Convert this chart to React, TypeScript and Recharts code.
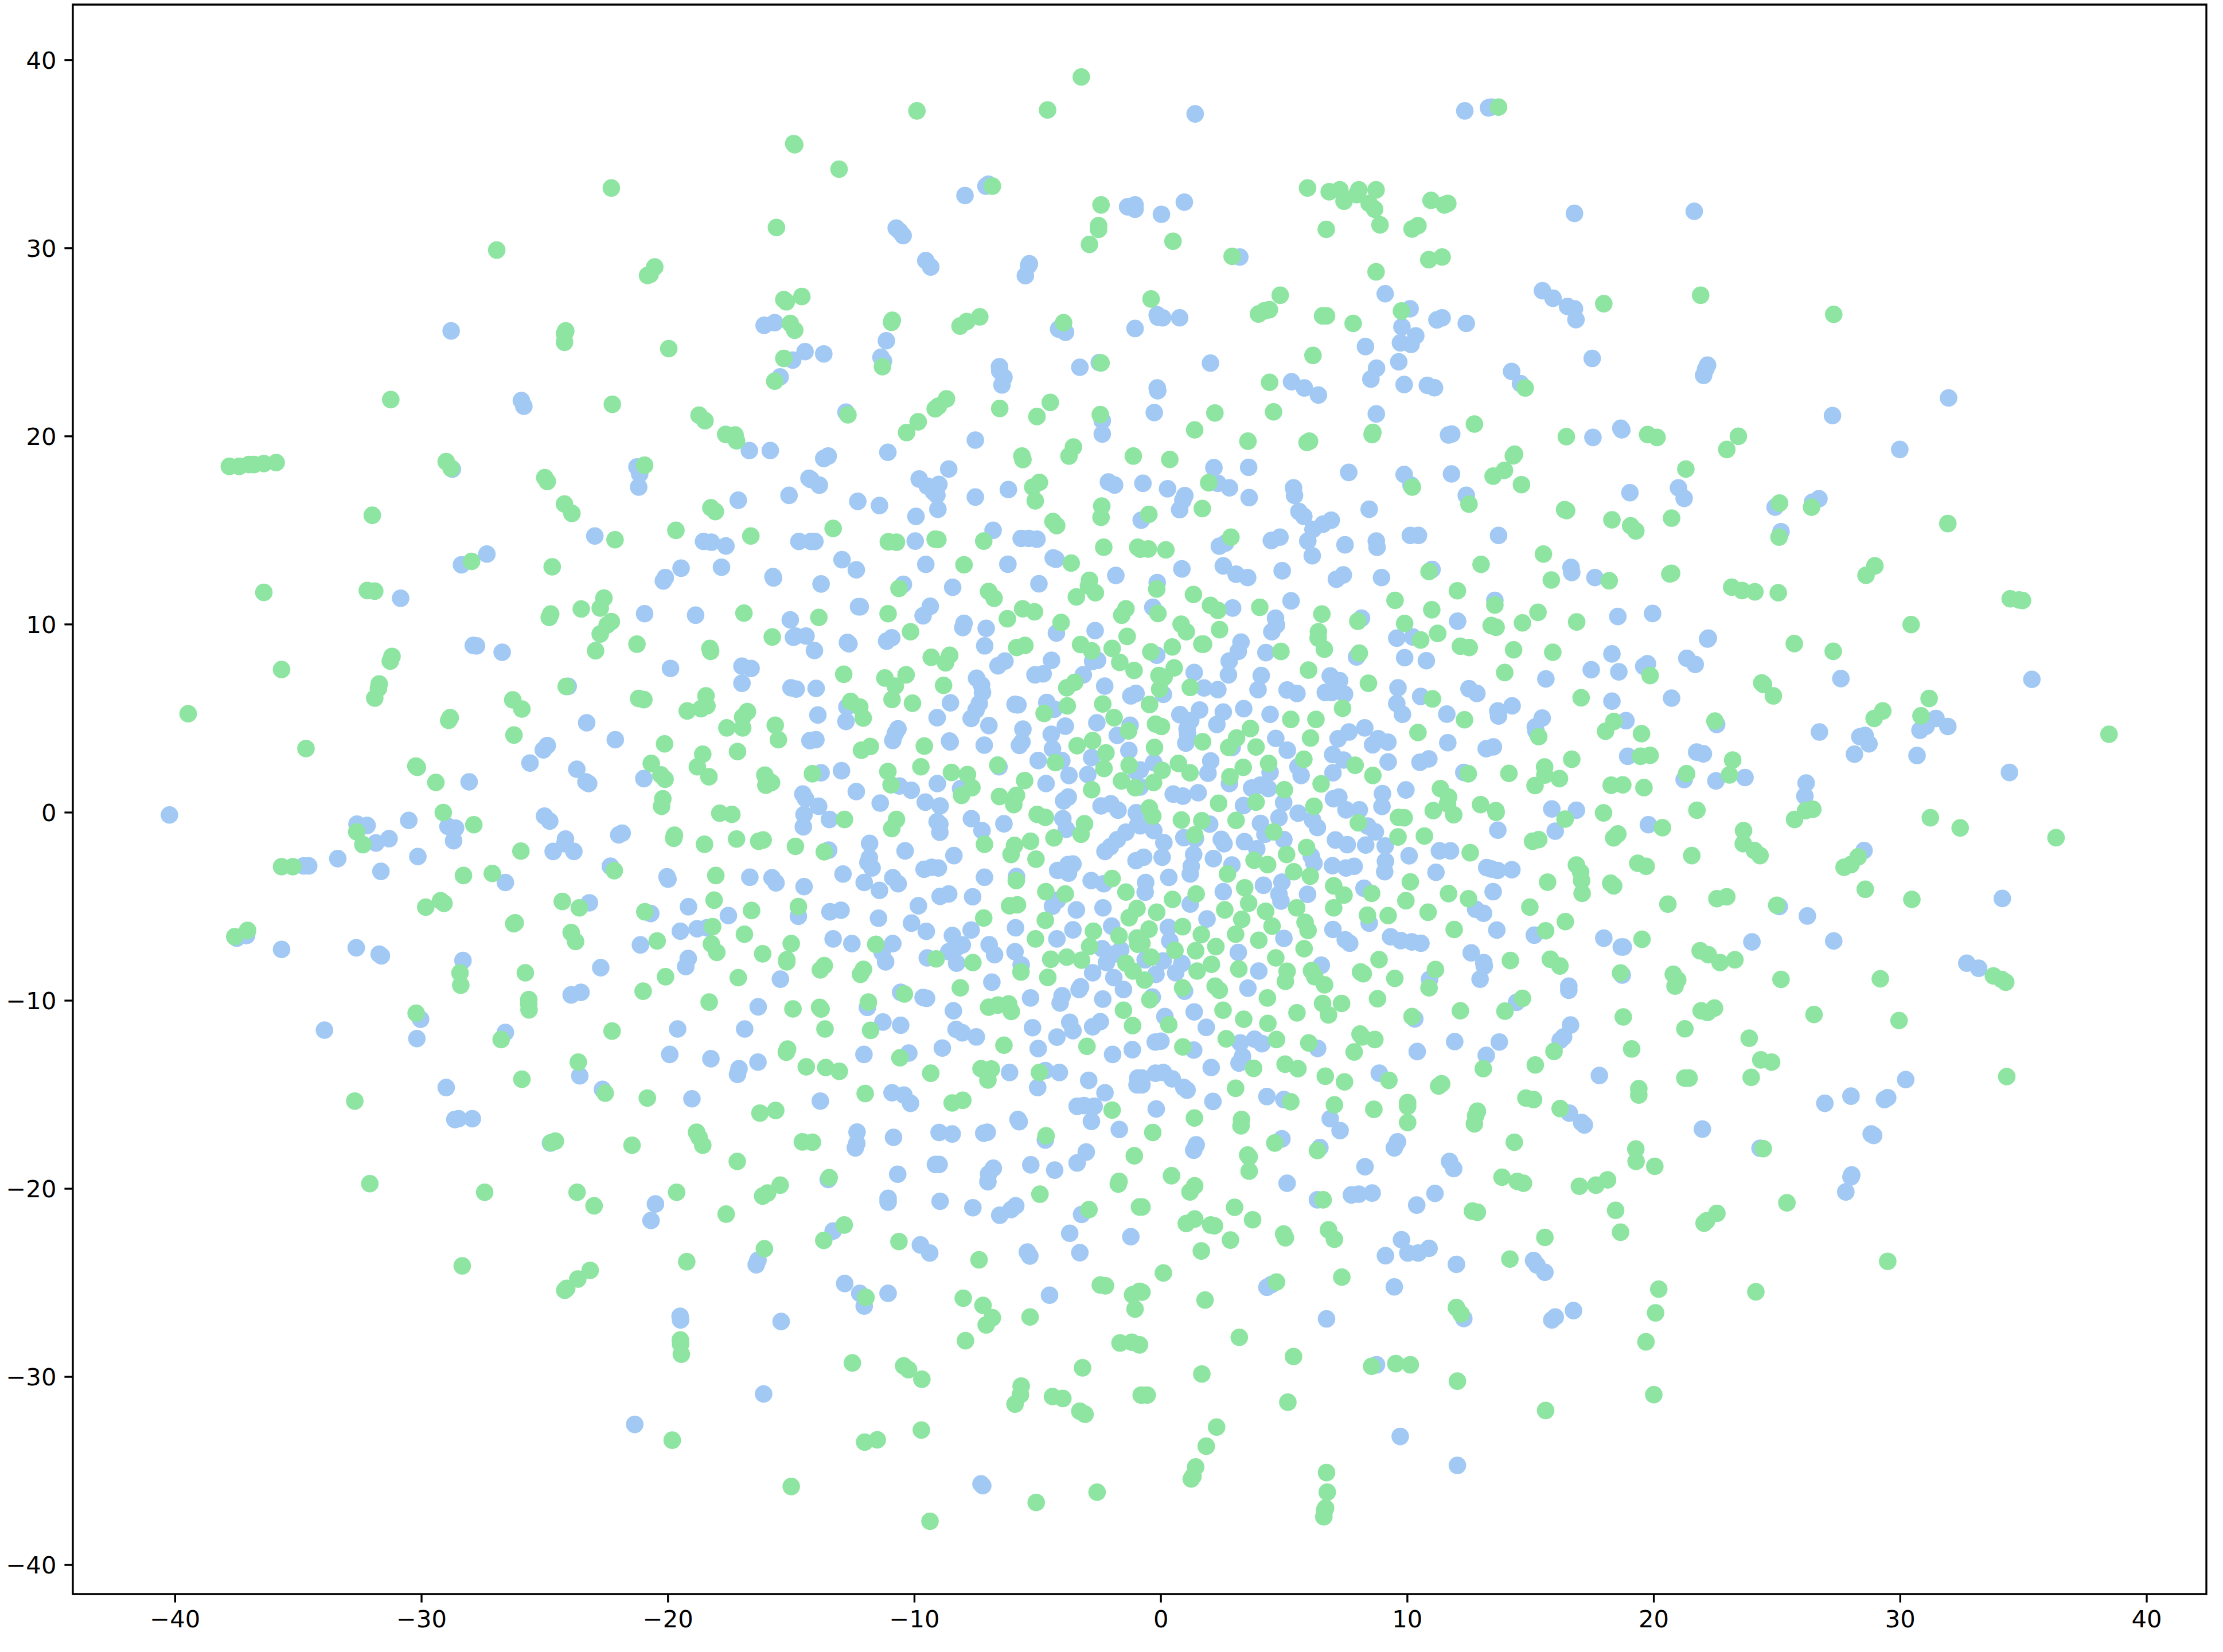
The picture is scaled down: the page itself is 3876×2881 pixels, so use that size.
import React from "react";
import { ScatterChart, Scatter, XAxis, YAxis, ReferenceArea } from "recharts";

const xTicks = [-40, -30, -20, -10, 0, 10, 20, 30, 40];
const yTicks = [-40, -30, -20, -10, 0, 10, 20, 30, 40];
const xDomain = [-44.15, 42.42];
const yDomain = [-41.55, 42.95];

const bluePointsOuterTop: number[][] = [
[-28.8,25.6],[-25.95,21.9],[-25.85,21.6],[-28.75,18.25],[-22.97,14.7],
[-7,33.4],[-7.1,33.3],[-7.95,32.8],[-1.35,32.2],[-1.05,32.3],[-1.05,32.07],[-10.74,31.07],[-10.6,30.9],[-10.46,30.67],[-9.54,29.34],[-9.34,29],[-5.34,29.17],[-5.37,29.08],[-5.5,28.54],[-16.1,25.9],[-15.67,26.04],[-4.15,25.7],[-3.87,25.53],[-1.05,25.73],[-11.14,25.08],[-14.44,24.5],[-13.68,24.38],[-14.94,24.05],[-11.36,24.2],[-11.26,24],[-6.55,23.7],[-6.54,23.47],[-6.37,23.13],[-6.45,22.73],[-2.5,23.92],[-3.29,23.67],[-15.45,23.16],[-12.78,21.28],[-2.38,20.83],[-2.38,20.12],[-7.53,19.8],[-16.7,19.24],[-15.85,19.24],[-13.68,18.82],[-13.5,18.95],[-11.08,19.15],[-21.26,18.37],[-21.15,18],[-21.19,17.3],[-14.28,17.77],[-14.2,17.7],[-13.86,17.4],[-8.61,18.26],[-9.81,17.73],[-9.48,17.35],[-9.01,17.44],[-9.23,17.05],[-9.09,16.87],[-9.05,16.12],[-17.15,16.6],[-15.09,16.86],[-12.3,16.54],[-11.42,16.32],[-9.94,15.74],[-7.53,16.77],[-6.19,17.17],[-2.13,17.57],[-1.88,17.41],[-0.73,17.5],[-6.81,15],[-0.8,15.54],
[1.39,37.14],[12.33,37.3],[13.29,37.46],[13.4,37.5],[0.95,32.45],[0.02,31.8],[3.2,29.53],[16.78,31.85],[9.1,27.58],[10.11,26.78],[15.48,27.74],[15.91,27.34],[16.5,26.9],[16.78,26.78],[16.84,26.2],[-0.15,26.46],[-0.12,26.33],[0.07,26.3],[0.76,26.3],[11.2,26.19],[11.41,26.3],[12.39,26],[9.78,25.82],[10.34,25.34],[9.72,24.97],[10.15,24.88],[8.3,24.77],[9.65,23.96],[17.5,24.14],[2.01,23.89],[8.75,23.62],[8.52,23.04],[14.23,23.45],[14.59,22.8],[5.3,22.9],[5.82,22.57],[6.39,22.19],[9.87,22.75],[10.81,22.71],[11.1,22.58],[-0.15,22.57],[-0.13,22.42],[-0.27,21.26],[8.74,21.19],[11.67,20.07],[11.8,20.12],[17.53,19.94],[18.66,20.43],[18.7,20.34],[7.62,18.08],[2.15,18.33],[3.56,18.35],[2.31,17.5],[2.78,17.26],[9.87,17.97],[10.15,17.4],[11.79,18],[0.27,17.21],[0.97,16.85],[0.89,16.6],[0.76,16.1],[3.58,16.74],[5.38,17.26],[5.42,16.86],[8.45,16.12],[5.6,16],[5.8,15.74],[6.91,15.54],[6.58,15.33],[6.17,15.05],[12.39,16.86],[19.03,17],[4.83,14.64],[4.48,14.46],[10.12,14.73],[10.45,14.73],[13.7,14.73],
[21.64,31.96],[22.18,23.78],[22.1,23.56],[22.02,23.24],[27.25,21.1],[31.96,22.04],[29.98,19.3],[21,17.26],[21.23,16.7],[24.92,16.23],[26.7,16.68],[26.44,16.5],[25.16,14.93],
];

const bluePointsLeft: number[][] = [
[-27.9,8.88],[-27.77,8.86],[-28.38,13.17],[-27.35,13.74],[-30.85,11.39],[-26.73,8.52],[-24.05,6.71],[-23.3,4.77],[-24.9,3.56],[-25.06,3.33],[-25.6,2.63],[-23.7,2.3],[-23.33,1.63],[-23.22,1.54],[-28.07,1.63],[-40.23,-0.13],[-25.01,-0.19],[-24.8,-0.46],[-32.62,-0.62],[-32.21,-0.69],[-30.52,-0.42],[-28.93,-0.74],[-28.62,-0.83],[-28.7,-1.5],[-31.85,-1.62],[-31.32,-1.39],[-24.16,-1.41],[-24.19,-1.66],[-24.66,-2.07],[-23.82,-2.07],[-33.4,-2.45],[-30.15,-2.34],[-34.78,-2.84],[-34.58,-2.84],[-31.65,-3.13],[-26.6,-3.72],[-22.34,-2.86],[-23.19,-4.8],[-37.1,-6.54],[-37.5,-6.68],[-35.68,-7.28],[-32.65,-7.19],[-31.72,-7.53],[-31.63,-7.62],[-28.32,-7.87],[-22.73,-8.25],[-23.53,-9.56],[-23.93,-9.7],[-30.04,-10.99],[-33.94,-11.57],[-26.6,-11.69],[-30.19,-12.02],
[-29,-14.62],[-28.65,-16.32],[-28.5,-16.28],[-27.94,-16.28],[-24.77,-17.57],[-23.58,-14],[-22.66,-14.72],
];

const bluePointsMidLeft: number[][] = [
[-18.56,14.41],[-18.24,14.37],[-17.65,14.17],[-14.69,14.41],[-14.2,14.41],[-14.04,14.41],[-9.97,14.43],[-5.67,14.57],[-5.36,14.57],[-5.03,14.53],[-12.94,13.44],[-12.36,12.9],[-19.47,12.99],[-17.83,13.04],[-20.11,12.49],[-20.19,12.31],[-15.74,12.54],[-15.72,12.47],[-13.79,12.15],[-9.54,13.19],[-6.21,13.2],[-4.95,12.16],[-4.37,13.53],[-4.26,13.46],[-1.83,12.6],[-10.45,12.13],[-8.45,11.97],[-20.95,10.57],[-18.88,10.49],[-15.04,10.24],[-12.27,10.94],[-12.2,10.94],[-9.36,10.96],[-9.65,10.46],[-7.99,10.06],[-8.04,9.83],[-7.09,9.79],[-4.24,9.54],[-2.67,9.67],[-14.83,9.38],[-14.4,9.38],[-14.91,9.31],[-14.06,8.61],[-12.72,9.04],[-12.66,8.97],[-10.92,9.29],[-11.13,9.11],[-7.15,8.86],[-4.44,8.09],[-19.9,7.66],[-17,7.78],[-16.63,7.66],[-6.33,8.05],[-6.61,7.8],[-2.77,8.03],[-2.57,8.09],[-17,6.87],[-7.48,7.14],[-7.28,6.78],[-7.24,6.38],[-7.37,5.79],[-7.5,5.45],[-7.7,5],[-5.11,7.32],[-4.78,7.37],[-3.15,7.32],[-2.28,6.72],[-15.01,6.63],[-14.8,6.56],[-13.99,6.6],[-1.22,6.2],[-1.01,6.33],[-8.54,5.83],[-12.74,5.61],[-5.92,5.75],[-5.8,5.72],[-4.63,5.85],[-4.33,5.49],[-13.92,5.18],[-12.78,4.84],[-9.08,5.04],[-6.98,4.62],[-3.88,4.59],[-2.6,4.77],[-1.25,4.64],[-5.6,4.43],[-10.67,4.45],[-10.78,4.2],[-10.88,3.83],[-4.45,4.16],[-1.77,4.1],[-22.14,3.87],[-14.24,3.82],[-14,3.87],[-8.58,3.8],[-8.55,3.75],[-5.64,3.75],[-5.74,3.57],[-7.17,3.58],[-4.4,3.39],[-2.81,2.92],[-1.3,3.3],[-4.98,2.76],[-4.02,2.76],[-6.57,2.43],[-13.79,2.11],[-12.96,2.22],[-1,2.17],[-2.97,2.02],[-3.73,1.97],[-20.98,1.8],[-9.07,1.54],[-4.66,1.54],[-10.61,1.41],[-10.13,1.18],[-12.36,1.11],[-14.53,0.98],[-14.42,0.73],[-8.13,1.27],[-3.76,0.82],[-3.95,0.62],[-11.39,0.5],[-9.56,0.55],[-8.96,0.35],[-13.89,0.33],[-2.43,0.35],[-2.03,0.46],[-1.74,0.12],[-1,-0.01],[-14.48,-0.11],[-14.51,-0.76],[-13.45,-0.37],[-7.69,-0.33],[-3.98,-0.33],[-9.08,-0.49],[-8.97,-0.62],[-8.97,-1.05],[-6.37,-0.6],[-7.26,-0.96],[-3.84,-0.89],[-1.42,-1.05],[-1.77,-1.44],[-0.94,-0.65],[-22,-1.19],[-21.86,-1.1],[-11.82,-1.64],[-10.38,-2.04],[-2.05,-1.82],[-2.27,-2.07],[-13.48,-2],[-11.83,-2.41],[-11.89,-2.66],[-11.72,-2.95],[-8.4,-2.29],[-1.01,-2.56],[-9.61,-3.02],[-9.3,-2.91],[-9.03,-2.95],[-22.33,-2.86],[-20.04,-3.42],[-20,-3.54],[-16.68,-3.44],[-15.78,-3.47],[-15.62,-3.74],[-12.9,-3.27],[-10.88,-3.47],[-10.66,-3.79],[-12.04,-3.72],[-4.19,-3.08],[-3.77,-2.77],[-3.57,-2.74],[-3.75,-3.22],[-7.16,-3.44],[-5.86,-3.4],[-2.83,-3.62],[-2.32,-3.79],[-11.42,-4.14],[-14.48,-3.94],[-8.61,-4.33],[-8.96,-4.46],[-7.64,-4.48],[-4.4,-4.98],[-4.19,-4.66],[-2.35,-5.07],[-3.43,-5.18],[-9.84,-4.96],[-19.17,-5.01],[-20.7,-5.37],[-12.98,-5.2],[-13.43,-5.28],[-17.55,-5.48],[-11.46,-5.62],[-14.71,-5.52],[-10.12,-5.88],[-5.9,-6.13],[-2,-6.04],[-7.7,-6.25],[-9.52,-6.32],[-3.57,-6.24],[-18.82,-6.18],[-18.42,-6.13],[-19.5,-6.31],[-13.3,-6.72],[-8.46,-6.54],[-8.06,-7.04],[-8.27,-7.17],[-4.22,-6.72],[-6.97,-7.03],[-12.54,-6.97],[-10.88,-6.97],[-21.12,-7.04],[-2.38,-7.24],[-1.63,-7.3],[-1.91,-7.53],[-8.61,-7.4],[-5.92,-7.4],[-11.31,-7.44],[-6.75,-7.56],[-9.48,-7.73],[-19.18,-7.76],[-19.28,-8.19],[-11.17,-7.94],[-8.29,-8.01],[-5.67,-8.1],[-2.21,-7.98],[-2.77,-8.52],[-1.91,-8.78],[-15.44,-8.86],[-6.86,-9.02],[-1.52,-9.41],[-3.32,-9.41],[-3.26,-9.27],[-4.01,-9.74],[-4.09,-10.13],[-10.56,-9.56],[-9.65,-9.83],[-9.51,-9.88],[-5.29,-9.86],[-2.36,-9.92],[-16.34,-10.33],[-11.91,-10.36],[-8.42,-10.54],[-3.7,-11.15],[-3.57,-11.6],[-2.46,-11.12],[-2.77,-11.39],[-11.28,-11.14],[-10.56,-11.31],[-8.31,-11.53],[-8.06,-11.71],[-7.49,-11.93],[-5.21,-11.44],[-4.22,-11.94],[-19.61,-11.51],[-16.89,-11.51],[-8.87,-12.52],[-10.23,-12.79],[-4.98,-12.55],[-1.16,-12.61],[-12.05,-12.86],[-1.96,-12.86],[-19.93,-12.86],[-18.26,-13.09],[-17.12,-13.62],[-17.18,-13.92],[-16.35,-13.27],
];

const bluePointsMidRight: number[][] = [
[2.37,14.16],[2.62,14.32],[5.96,14.43],[6.14,13.65],[7.47,14.23],[8.74,14.43],[8.77,14.1],[0.85,12.95],[2.53,13.11],[3.05,12.67],[3.52,12.49],[4.92,12.85],[7.4,12.63],[7.12,12.4],[8.95,12.49],[11,12.92],[16.64,13.03],[16.67,12.76],[17.61,12.49],[-0.15,12.22],[-0.33,10.91],[2.91,10.87],[5.28,11.25],[13.55,11.28],[4.65,10.33],[4.69,9.97],[4.5,9.61],[8.14,10.33],[12.04,10.17],[18.54,10.42],[19.95,10.58],[9.57,9.27],[10.22,9.33],[3.25,9.06],[3.14,8.57],[2.77,8.05],[4.26,8.5],[7.94,8.27],[9.89,8.23],[10.77,8.07],[-0.17,8.36],[18.3,8.43],[19.74,7.91],[19.59,7.77],[1.35,7.44],[2.74,7.32],[4.07,7.28],[17.46,7.59],[18.58,7.48],[15.62,7.1],[6.87,7.26],[7.25,7.01],[9.62,6.63],[1.75,6.62],[2.31,6.53],[3.94,6.53],[5.12,6.51],[5.52,6.33],[6.67,6.38],[6.93,6.38],[7.45,6.29],[0.1,6.28],[12.5,6.58],[12.82,6.33],[10.54,6.17],[20.72,6.08],[18.3,5.92],[9.57,5.79],[14.25,5.67],[13.67,5.4],[13.7,5.13],[1.57,5.45],[3.36,5.52],[2.53,5.34],[4.43,5.22],[0.77,5.2],[9.8,5.22],[11.6,5.23],[1.21,4.89],[15.47,5.02],[18.87,4.88],[1.06,4.44],[1.08,4.19],[2.27,4.68],[15.19,4.55],[15.22,4.32],[8.27,4.5],[7.63,4.28],[7.19,3.92],[8.82,3.92],[4.66,3.94],[9.21,3.74],[8.59,3.6],[11.64,3.71],[1.01,3.69],[2.89,3.46],[13.49,3.49],[13.2,3.39],[5.13,3.31],[6.97,3.08],[10.87,2.85],[10.51,2.67],[7.41,2.79],[-0.29,2.65],[2.02,2.74],[18.94,2.99],[9.22,2.69],[5.56,2.43],[1.91,2.09],[-0.84,2.26],[6.98,2.11],[4.43,2.13],[5.69,1.97],[12.29,2.13],[2.78,1.54],[3.68,1.3],[4.03,1.45],[4.36,1.27],[-0.84,1.36],[9.94,1.2],[8.99,1],[1.51,1.05],[0.5,0.98],[0.89,0.87],[7,0.73],[7.22,0.82],[4.98,0.53],[8.97,0.32],[7.51,0.14],[8.05,0.14],[3.35,0.37],[15.86,0.19],[16.86,0.12],[5.57,-0.04],[4.79,-0.28],[6.15,-0.4],[1.98,-0.62],[4.04,-0.58],[6.35,-0.8],[19.78,-0.65],[8.39,-0.72],[4.22,-1.16],[8.7,-1.03],[13.67,-0.94],[16,-0.99],[-0.29,-0.96],[-0.84,-0.71],[0.93,-1.34],[1.4,-1.39],[2.45,-1.43],[2.56,-1.66],[3.39,-1.55],[4.99,-1.44],[7.08,-1.46],[7.56,-1.71],[8.31,-1.73],[3.89,-1.93],[9.1,-1.78],[0.12,-1.6],[1.33,-2.23],[2.13,-2.45],[0.05,-2.38],[-0.7,-2.38],[11.3,-2.04],[11.75,-2.04],[10.07,-2.3],[6.1,-2.32],[6.21,-2.7],[9.11,-2.59],[9.08,-3.15],[2.88,-2.79],[1.23,-2.86],[1.19,-3.27],[6.96,-2.83],[7.51,-2.95],[7.84,-2.86],[11.16,-3.18],[13.22,-2.93],[13.4,-3],[13.66,-3.08],[14.24,-3.04],[0.32,-3.45],[-0.62,-3.72],[-0.64,-4.24],[4.91,-3.7],[4.16,-3.87],[2.53,-4.21],[8.24,-4.03],[13.48,-4.21],[4.79,-4.35],[4.87,-4.71],[5.95,-4.35],[1.19,-4.87],[12.77,-5.14],[13.09,-5.36],[1.87,-5.66],[8.45,-5.88],[13.63,-6.25],[0.3,-6.11],[6.98,-6.22],[15.15,-6.52],[4.99,-6.69],[0.36,-6.83],[9.32,-6.61],[9.73,-6.81],[10.18,-6.88],[10.55,-6.95],[7.48,-6.77],[7.66,-6.95],[17.97,-6.68],[18.68,-7.15],[18.76,-7.15],[3.14,-7.44],[12.59,-7.46],[0.09,-7.89],[-0.64,-7.83],[0.85,-8.03],[6.51,-8.12],[13.1,-7.98],[13.12,-8.16],[0.6,-8.52],[-0.2,-8.6],[3.97,-8.43],[10.9,-8.87],[12.95,-8.86],[18.72,-8.64],[3.53,-9.34],[16.55,-9.23],[16.55,-9.45],[0.96,-9.5],[-0.35,-9.81],[14.43,-10.09],[1.35,-10.6],[0.16,-10.85],[10.3,-10.97],[16.62,-11.3],[16.34,-11.93],[16.2,-12.11],[1.84,-11.42],[11.92,-12.18],[13.73,-12.2],[-0.23,-12.2],[0,-12.16],[3.22,-12.25],[3.8,-12.05],[4.1,-12.29],[6.36,-12.54],[1.33,-12.63],[10.4,-12.71],[13.2,-12.91],[3.31,-12.97],[2.04,-13.56],[3.17,-13.32],
[22.21,9.27],[22.18,9.22],[21.34,8.2],[21.68,7.87],[27.59,7.12],[35.34,7.08],[22.55,4.68],[31.45,5],[31.05,4.59],[30.8,4.37],[31.93,4.57],[26.72,4.28],[28.57,4.1],[28.36,4.03],[28.73,3.65],[28.14,3.1],[30.68,3.03],[21.74,3.21],[22.01,3.12],[23.7,1.86],[22.52,1.68],[21.23,1.75],[26.18,1.57],[26.13,0.87],[34.43,2.13],[28.53,-2.02],[34.14,-4.57],[25.09,-5],[26.23,-5.5],[23.98,-6.88],[27.3,-6.83],[32.7,-8.01],[33.18,-8.28],
];

const bluePointsBottom: number[][] = [
[-19.03,-15.22],[-13.82,-15.34],[-10.91,-14.9],[-10.43,-15.02],[-10.16,-15.46],[-6.14,-13.82],[-4.69,-13.72],[-4.12,-13.82],[-5,-14.62],[-2.93,-14.24],[-2.27,-14.9],[-3.4,-15.62],[-3.12,-15.58],[-2.71,-15.62],[-0.97,-14.48],[-0.94,-14.12],[-5.8,-16.32],[-5.75,-16.44],[-2.82,-16.42],[-1.69,-16.85],[-12.33,-16.99],[-12.34,-17.59],[-12.4,-17.83],[-10.85,-17.27],[-9,-17.01],[-8.47,-17.09],[-7.19,-17.05],[-7.05,-17],[-4.69,-17.41],[-3.03,-18.05],[-3.4,-18.63],[-9.15,-18.71],[-9,-18.71],[-5.28,-18.73],[-4.31,-19.01],[-6.8,-18.91],[-6.99,-19.21],[-7.02,-19.63],[-10.68,-19.23],[-13.5,-19.51],[-11.07,-20.51],[-11.07,-20.71],[-8.96,-20.67],[-7.63,-21.01],[-5.89,-20.91],[-6.08,-21.11],[-6.54,-21.41],[-3.22,-21.37],[-20.51,-20.81],[-20.69,-21.69],[-13.3,-22.25],[-3.7,-22.37],[-1.22,-22.55],[-9.76,-22.99],[-9.38,-23.42],[-5.42,-23.37],[-5.32,-23.58],[-3.29,-23.4],[-16.35,-23.8],[-16.42,-24.04],[-12.83,-25.04],[-12.22,-25.56],[-12.04,-26.24],[-11.07,-25.56],[-4.52,-25.66],[-19.51,-26.78],[-19.49,-26.98],[-15.41,-27.06],[-16.12,-30.91],[-21.35,-32.53],[-7.3,-35.69],[-7.23,-35.79],
[-0.22,-13.86],[0.1,-13.82],[0.46,-14.16],[-0.77,-14.12],[-0.77,-14.48],[0.93,-14.62],[1.06,-14.76],[4.3,-15.1],[4.99,-15.26],[17.79,-13.98],[8.86,-13.86],[2.11,-15.36],[-0.19,-15.76],[6.87,-16.28],[7.27,-16.91],[16.57,-15.98],[17.07,-16.48],[17.18,-16.61],[4.91,-17.35],[1.43,-17.67],[1.33,-17.95],[6.45,-17.81],[9.6,-17.51],[9.47,-17.83],[8.28,-18.83],[11.71,-18.55],[11.88,-18.93],[5.12,-19.71],[11.12,-20.25],[7.73,-20.33],[8.03,-20.29],[8.57,-20.23],[6.35,-20.59],[10.38,-20.87],[9.76,-22.71],[9.11,-23.56],[10.02,-23.42],[10.44,-23.42],[10.88,-23.17],[11.99,-24.02],[15.12,-23.82],[15.26,-24.06],[15.58,-24.44],[9.47,-25.22],[4.3,-25.24],[4.48,-25.1],[6.72,-26.92],[12.29,-26.9],[15.86,-26.98],[16,-26.82],[16.74,-26.48],[8.75,-29.36],[9.71,-33.17],[12.03,-34.71],
[30.22,-14.2],[28,-15.08],[26.94,-15.46],[29.36,-15.26],[29.49,-15.16],[21.97,-16.83],[28.82,-17.09],[28.92,-17.17],[24.31,-17.85],[28.03,-19.27],[28,-19.37],[27.79,-20.17],
];

const greenPointsOuterTop: number[][] = [
[-37.8,18.4],[-37.4,18.4],[-37,18.5],[-36.8,18.5],[-36.4,18.55],[-35.9,18.6],[-31.25,21.95],[-32,15.8],[-26.95,29.9],[-24.15,25.6],[-24.2,25.45],[-24.2,25],[-29,18.65],[-28.8,18.3],[-25,17.8],[-24.9,17.6],[-24.2,16.4],[-23.9,15.9],[-22.3,33.2],[-22.26,21.7],
[-3.23,39.1],[-4.6,37.35],[-9.9,37.3],[-14.9,35.56],[-14.86,35.5],[-13.06,34.2],[-15.6,31.1],[-20.54,29],[-20.73,28.6],[-20.83,28.55],[-6.84,33.3],[-2.43,32.3],[-2.53,31.2],[-2.53,31],[-2.9,30.2],[-15.3,27.27],[-15.2,27.15],[-14.57,27.43],[-15.04,26],[-14.86,25.64],[-19.97,24.66],[-10.9,26.17],[-10.93,26.06],[-8.15,25.86],[-7.88,26.1],[-7.35,26.35],[-3.95,26.04],[-15.3,24.14],[-11.3,23.7],[-2.43,23.9],[-15.67,22.93],[-12.7,21.14],[-8.7,21.99],[-9.03,21.6],[-9.16,21.46],[-9.85,20.77],[-10.32,20.2],[-6.54,21.48],[-4.49,21.8],[-5.03,21.05],[-2.46,21.15],[-18.74,21.12],[-18.5,20.83],[-17.66,20.1],[-17.28,20.07],[-17.22,19.76],[-20.95,18.46],[-5.64,18.95],[-5.6,18.76],[-3.55,19.43],[-3.73,18.95],[-1.12,18.95],[-4.93,17.55],[-5.2,17.3],[-5.1,16.57],[-2.4,16.29],[-2.43,15.69],[-18.26,16.2],[-18.08,16],[-4.38,15.47],[-4.23,15.25],[-19.68,15],[-16.64,14.7],[-13.3,15.1],[-22.15,14.5],
[13.7,37.5],[5.95,33.2],[6.83,33],[7.26,33.1],[7.43,32.5],[7.94,32.85],[8.03,33.1],[8.73,33.1],[8.45,32.38],[8.67,32.07],[6.71,31],[8.89,31.24],[10.19,31.02],[10.43,31.2],[10.96,32.54],[11.5,32.3],[11.64,32.38],[0.49,30.37],[2.89,29.57],[10.87,29.39],[11.41,29.53],[8.73,28.74],[-0.4,27.3],[4.84,27.5],[4.4,26.73],[4.2,26.67],[3.96,26.5],[6.56,26.4],[6.72,26.4],[7.8,26],[9.76,26.66],[17.97,27.05],[6.17,24.3],[14.78,22.57],[4.41,22.87],[2.19,21.24],[4.57,21.3],[1.37,20.34],[3.53,19.74],[5.93,19.67],[6.03,19.74],[0.36,18.77],[8.6,20.21],[8.57,20.09],[12.72,20.65],[16.45,19.98],[19.75,20.09],[20.13,19.94],[14.35,19.05],[14.3,18.96],[13.94,18.19],[13.48,17.88],[14.63,17.43],[1.94,17.53],[10.2,17.3],[1.68,16.16],[-0.49,15.85],[12.5,16.39],[16.38,16.1],[16.46,16.05],[18.3,15.56],[19.06,15.24],[19.27,14.97],[20.72,15.65],[2.84,14.64],
[21.9,27.5],[27.3,26.48],[23.43,20],[22.96,19.3],[21.3,18.26],[25.1,16.45],[26.4,16.23],[31.93,15.36],[25.08,14.64],
];

const greenPointsLeft: number[][] = [
[-27.97,13.35],[-24.7,13.06],[-36.4,11.7],[-32.2,11.8],[-31.9,11.77],[-23.52,10.82],[-22.6,11.4],[-22.75,10.87],[-24.76,10.55],[-24.82,10.37],[-22.75,9.49],[-22.47,9.97],[-22.3,10.15],[-22.94,8.6],[-31.2,8.3],[-31.27,8.05],[-35.68,7.6],[-31.72,6.83],[-31.75,6.6],[-31.9,6.08],[-26.3,5.99],[-25.93,5.5],[-24.13,6.7],[-39.47,5.25],[-28.84,5.04],[-28.9,4.9],[-26.25,4.12],[-34.69,3.4],[-30.23,2.47],[-30.17,2.4],[-29.42,1.6],[-29.12,0],[-27.88,-0.65],[-32.63,-1.03],[-32.38,-1.71],[-25.97,-2.05],[-35.68,-2.88],[-35.22,-2.88],[-28.3,-3.35],[-27.13,-3.24],[-29.23,-4.69],[-29.09,-4.83],[-29.83,-5.03],[-24.29,-4.73],[-23.6,-5.07],[-26.26,-5.91],[-26.2,-5.86],[-37.06,-6.27],[-37.58,-6.6],[-23.93,-6.38],[-23.75,-6.86],[-28.44,-8.53],[-28.41,-9.18],[-25.79,-8.52],[-25.65,-9.95],[-25.65,-10.18],[-25.64,-10.49],[-30.22,-10.67],[-26.77,-12.07],[-22.27,-11.62],[-23.64,-13.27],
[-32.71,-15.34],[-25.93,-14.18],[-32.1,-19.73],[-27.44,-20.19],[-24.57,-17.47],[-24.74,-17.55],[-23.69,-20.19],[-23,-20.91],[-28.35,-24.1],[-23.16,-24.34],[-23.66,-24.8],[-24.11,-25.3],[-24.19,-25.4],[-22.55,-14.92],
];

const greenPointsMidLeft: number[][] = [
[-2.32,14.1],[-11.06,14.39],[-10.73,14.37],[-9.16,14.53],[-9.05,14.51],[-7.19,14.43],[-7.99,13.17],[-3.64,13.26],[-2.9,12.34],[-2.94,12.04],[-2.66,11.68],[-0.94,14.1],[-10.63,11.91],[-6.99,11.75],[-6.77,11.39],[-3.43,11.46],[-5.61,10.83],[-5.13,10.67],[-1.42,10.83],[-1.59,10.49],[-16.92,10.6],[-13.88,10.37],[-11.07,10.57],[-6.23,10.3],[-4.05,10.1],[-15.77,9.33],[-10.16,9.61],[-1.37,9.36],[-21.26,8.95],[-18.3,8.72],[-18.27,8.57],[-3.26,8.93],[-1.98,8.72],[-2.81,8.59],[-5.85,8.77],[-5.52,8.88],[-8.57,8.36],[-8.74,7.96],[-9.32,8.25],[-1.67,7.98],[-1.09,7.55],[-12.87,7.35],[-11.2,7.15],[-10.34,7.32],[-10.78,6.72],[-8.82,6.76],[-3.5,6.92],[-3.82,6.63],[-10.91,6.01],[-10.08,5.81],[-2.36,5.77],[-21.19,6.06],[-20.98,6],[-18.46,6.2],[-18.42,5.67],[-18.66,5.52],[-19.22,5.4],[-12.59,5.9],[-12.22,5.61],[-12.08,5.02],[-3.8,5.67],[-4.74,5.27],[-16.78,5.36],[-16.97,5.07],[-1.9,5.04],[-15.65,4.64],[-17.61,4.5],[-16.97,4.5],[-1.31,4.34],[-15.52,3.87],[-2.77,3.82],[-20.14,3.65],[-3.4,3.55],[-9.6,3.53],[-11.79,3.51],[-12.15,3.31],[-17.18,3.24],[-18.59,3.1],[-2.23,3.17],[-20.68,2.61],[-4.28,2.65],[-6.62,2.52],[-1.29,2.51],[-18.81,2.43],[-2.31,2.34],[-9.74,2.43],[-8.5,2.13],[-7.85,2.02],[-14.14,2.06],[-11.08,2.18],[-20.29,2],[-20.12,1.77],[-18.34,1.9],[-16.07,1.99],[-15.8,1.59],[-16.03,1.45],[-5.53,1.7],[-1.6,1.68],[-10.95,1.47],[-7.67,1.32],[-8.09,0.91],[-1.04,1.32],[-2.81,1.21],[-5.86,0.91],[-6.55,0.85],[-5.97,0.42],[-20.21,0.73],[-20.26,0.33],[-17.9,-0.04],[-17.41,-0.1],[-5.02,-0.1],[-4.69,-0.26],[-10.73,-0.37],[-10.92,-0.85],[-12.84,-0.37],[-3.1,-0.6],[-3.24,-1.16],[-4.34,-1.35],[-19.74,-1.21],[-19.77,-1.37],[-18.52,-1.69],[-17.22,-1.41],[-16.32,-1.53],[-16.14,-1.46],[-14.83,-1.8],[-5.94,-1.75],[-6.08,-2.23],[-5.29,-1.53],[-7.16,-1.69],[-13.66,-2.09],[-5.07,-2.48],[-22.18,-3.09],[-18.06,-3.35],[-1.98,-3.51],[-5.87,-3.62],[-18.13,-4.66],[-4.67,-4.21],[-3.88,-4.33],[-1.42,-4.23],[-14.71,-5],[-16.61,-5.21],[-6.14,-4.96],[-5.82,-4.91],[-20.94,-5.28],[-7.19,-5.61],[-0.97,-5.1],[-1.29,-5.59],[-4.69,-5.73],[-18.19,-6.07],[-16.9,-6.47],[-2.74,-6.31],[-5.09,-6.72],[-20.44,-6.83],[-1.7,-6.56],[-15,-6.97],[-11.57,-7.01],[-2.89,-7.12],[-18.24,-6.99],[-18.02,-7.44],[-0.97,-6.67],[-0.94,-7],[-16.16,-7.51],[-3.82,-7.69],[-4.47,-7.8],[-3.22,-7.85],[-9.12,-7.78],[-15.18,-7.83],[-15.18,-7.94],[-7.63,-7.98],[-1.42,-8.01],[-1.13,-8.43],[-13.66,-8.14],[-13.82,-8.37],[-12.07,-8.34],[-12.19,-8.6],[-5.68,-8.48],[-20.1,-8.73],[-4.59,-8.77],[-17.15,-8.78],[-8.14,-9.32],[-10.41,-9.65],[-21.01,-9.5],[-18.33,-10.08],[-11.87,-10.08],[-6.99,-10.35],[-6.62,-10.24],[-6.18,-10.18],[-6.07,-10.58],[-14.93,-10.44],[-13.85,-10.36],[-13.79,-10.45],[-1.52,-10.51],[-1.15,-11.33],[-13.63,-11.51],[-11.78,-11.58],[-6.37,-12.37],[-3,-12.43],[-15.15,-12.58],[-15.2,-12.74],[-10.59,-13.04],[-14.39,-13.52],[-13.6,-13.56],[-13.05,-13.76],
];

const greenPointsMidRight: number[][] = [
[-0.84,14],[-0.51,14.01],[0.2,13.96],[15.52,13.74],[12.99,13.19],[10.88,12.81],[15.84,12.36],[18.19,12.32],[20.65,12.68],[20.72,12.72],[1.32,11.59],[12.03,11.79],[2.01,11.01],[2.31,10.75],[9.5,11.28],[4.01,10.91],[10.99,10.78],[13.55,11.03],[-0.17,11.88],[-0.12,10.58],[6.53,10.55],[7.99,10.17],[15.3,10.64],[16.87,10.13],[14.67,10.08],[9.89,10.05],[0.82,10.01],[1.03,9.61],[13.4,9.94],[13.6,9.85],[2.38,9.72],[11.23,9.52],[6.39,9.61],[6.38,9.27],[6.63,8.68],[10.54,9.17],[1.66,8.95],[1.73,8.95],[12.15,8.84],[12.51,8.77],[0.46,8.8],[-0.41,8.54],[8.05,8.47],[14.31,8.65],[4.87,8.56],[15.9,8.52],[0.54,7.69],[5.99,7.57],[13.95,7.44],[19.85,7.28],[-0.08,7.28],[0.13,7.19],[-0.05,6.56],[8.42,6.87],[1.19,6.65],[11.02,6.04],[17.05,6.1],[-0.46,5.74],[7.37,5.54],[5.27,4.95],[6.29,4.95],[12.32,4.93],[18.38,4.84],[18.04,4.32],[-0.22,4.7],[0.02,4.57],[3.63,4.46],[3.07,3.96],[10.43,4.25],[15.33,4.03],[19.5,4.19],[6.07,3.96],[1.69,3.76],[2.75,3.46],[3.86,3.48],[-0.26,3.46],[16.67,2.83],[5.8,2.83],[19.46,2.99],[19.85,3.04],[0.71,2.61],[4.37,2.61],[7.88,2.51],[3.34,2.4],[15.57,2.42],[15.58,1.99],[0.05,2.24],[1.18,2.11],[12.47,2.06],[14.12,2.08],[8.6,1.97],[2.8,1.9],[16.17,1.8],[6.5,1.52],[-0.3,1.59],[15.18,1.43],[18.27,1.45],[18.74,1.47],[11.34,1.27],[19.6,1.32],[5.01,1.21],[11.67,0.82],[11.63,0.46],[3.86,0.55],[2.34,0.49],[6.21,0.33],[12.97,0.42],[13.59,0.1],[13.6,0.01],[11.05,0.1],[11.88,-0.12],[17.96,-0.02],[-0.47,0.24],[-0.33,-0.19],[0.83,-0.4],[3.05,-0.42],[1.66,-0.44],[8.01,-0.55],[9.64,-0.26],[9.87,-0.28],[16.4,-0.35],[20.35,-0.81],[4.58,-1.03],[1.37,-1.19],[9.62,-1.3],[10.69,-1.25],[18.54,-1.14],[18.37,-1.35],[15.33,-1.44],[15.08,-1.53],[5.91,-1.86],[5.1,-2.23],[12.55,-2.14],[3.78,-2.54],[4.33,-2.77],[19.35,-2.7],[19.69,-2.86],[16.86,-2.79],[17.03,-3.17],[17.07,-3.62],[17.09,-4.3],[2.7,-3.27],[5.39,-3.15],[6.06,-3.38],[10.12,-3.69],[15.69,-3.7],[18.25,-3.76],[18.37,-3.9],[7.01,-3.9],[3.4,-4],[1.43,-4.33],[7.43,-4.39],[8.55,-4.3],[11.67,-4.31],[12.48,-4.58],[0.47,-4.62],[9.94,-4.69],[3.56,-4.82],[7.01,-5.07],[20.57,-4.87],[5.51,-5.07],[14.97,-5.03],[-0.17,-5.3],[10.84,-5.3],[2.59,-5.18],[4.25,-5.25],[8.38,-5.46],[9.22,-5.48],[3.28,-5.68],[5.85,-5.84],[5.97,-6.27],[4.51,-6.04],[16.41,-5.8],[11.9,-6.22],[0.88,-6.07],[-0.48,-6.2],[15.61,-6.29],[1.64,-6.49],[3.03,-6.47],[3.97,-6.79],[19.52,-6.74],[-0.77,-6.95],[5.81,-7.24],[2.23,-7.13],[0.57,-7.33],[1.41,-7.35],[4.66,-7.73],[-0.4,-7.69],[8.85,-7.82],[14.18,-7.87],[15.8,-7.8],[16.19,-8.16],[2.05,-8.07],[3.16,-8.32],[5.12,-8.44],[11.14,-8.35],[1.47,-8.43],[6.11,-8.41],[6.24,-8.73],[8.1,-8.48],[8.21,-8.57],[-0.66,-8.91],[9.49,-8.82],[18.65,-8.53],[20.79,-8.6],[5.05,-8.98],[6.64,-9.16],[2.2,-9.23],[2.37,-9.45],[0.88,-9.32],[10.88,-9.32],[20.86,-9.23],[20.97,-8.9],[8.79,-9.9],[14.67,-9.88],[4.32,-9.86],[-0.45,-9.95],[7.33,-10.15],[6.56,-10.15],[2.52,-10.51],[5.52,-10.65],[12.15,-10.54],[13.96,-10.56],[6.8,-10.76],[18.76,-10.87],[10.19,-10.85],[3.36,-10.99],[4.34,-11.21],[0.32,-11.28],[8.08,-11.78],[8.17,-11.93],[8.68,-12.07],[2.65,-12.03],[4.69,-12.07],[6,-12.25],[0.89,-12.46],[19.1,-12.57],[7.84,-12.73],[15.95,-12.7],[5.04,-13.38],[5.56,-13.62],[3.76,-13.6],[15.19,-13.42],[13.08,-13.62],
[28.97,13.11],[28.61,12.61],[23.16,11.98],[23.58,11.8],[24.1,11.73],[25.05,11.68],[34.46,11.36],[34.82,11.3],[34.96,11.27],[30.44,9.99],[25.7,8.98],[27.28,8.57],[24.38,6.89],[24.45,6.81],[24.85,6.2],[31.17,6.06],[29.29,5.4],[28.94,5],[30.84,5.14],[38.47,4.16],[22.48,4.86],[23.2,2.79],[23.07,2],[21.33,2.06],[21.75,0.12],[26.45,0.17],[26.16,0.1],[25.71,-0.37],[31.22,-0.28],[32.43,-0.82],[36.32,-1.34],[23.64,-0.96],[23.63,-1.66],[24.08,-2.02],[24.31,-2.29],[21.54,-2.29],[28.29,-2.36],[28,-2.77],[27.72,-2.91],[28.58,-4.08],[30.47,-4.62],[22.96,-4.48],[22.56,-4.58],[24.99,-4.93],[21.88,-7.35],[22.21,-7.56],[22.69,-7.98],[23.29,-7.83],[33.78,-8.69],[34.11,-8.87],[34.28,-9.02],[25.16,-8.87],[29.19,-8.84],[22.46,-10.4],[21.92,-10.54],[22.18,-10.63],[26.5,-10.74],[29.95,-11.06],[21.26,-11.5],[23.87,-12],[24.34,-13.15],[24.78,-13.27],
];

const greenPointsBottom: number[][] = [
[-20.84,-15.18],[-9.34,-13.86],[-7.3,-13.62],[-6.88,-13.64],[-7.02,-14.22],[-4.93,-13.82],[-12,-14.94],[-8.47,-15.44],[-8.04,-15.3],[-16.27,-15.98],[-15.63,-15.84],[-1.98,-15.82],[-4.66,-17.19],[-18.84,-17],[-18.74,-17.27],[-18.59,-17.69],[-21.46,-17.69],[-14.55,-17.51],[-14.14,-17.53],[-1.08,-18.25],[-17.19,-18.55],[-13.46,-19.41],[-1.7,-19.61],[-1.73,-19.75],[-15.45,-19.81],[-15.96,-20.23],[-16.16,-20.39],[-19.65,-20.19],[-4.91,-20.29],[-17.64,-21.35],[-2.92,-21.11],[-0.87,-20.97],[-12.85,-21.93],[-13.68,-22.75],[-10.63,-22.81],[-16.09,-23.19],[-7.38,-23.78],[-19.24,-23.88],[-2.46,-25.12],[-2.25,-25.16],[-8.02,-25.82],[-11.97,-25.78],[-7.22,-26.2],[-1.15,-25.64],[-0.87,-25.46],[-6.84,-26.86],[-7.09,-27.24],[-5.31,-26.82],[-1.05,-26.4],[-7.93,-28.08],[-19.5,-28.04],[-19.49,-28.26],[-19.46,-28.8],[-1.66,-28.2],[-1.18,-28.16],[-0.87,-28.3],[-12.52,-29.26],[-3.18,-29.52],[-10.44,-29.42],[-10.24,-29.62],[-9.7,-30.13],[-5.67,-30.49],[-5.7,-30.95],[-5.92,-31.45],[-4.4,-31.05],[-3.98,-31.15],[-3.29,-31.83],[-3.08,-31.99],[-0.8,-30.97],[-9.72,-32.83],[-19.83,-33.37],[-12.02,-33.47],[-11.51,-33.35],[-15,-35.83],[-5.06,-36.68],[-2.59,-36.13],[-9.37,-37.68],
[3.03,-14.66],[6.67,-14.02],[7.45,-14.32],[9.25,-14.24],[11.39,-14.42],[11.27,-14.54],[19.39,-14.68],[19.39,-15.02],[5.27,-15.38],[7.04,-15.54],[8.64,-15.78],[10.01,-15.42],[10.01,-15.62],[14.81,-15.18],[15.12,-15.26],[16.2,-15.74],[1.36,-16.24],[3.27,-16.32],[3.25,-16.66],[10.01,-16.48],[12.84,-15.88],[12.77,-16.12],[12.72,-16.55],[-0.33,-17.01],[4.62,-17.57],[14.34,-17.53],[6.35,-17.97],[19.27,-17.89],[19.28,-18.55],[3.52,-18.21],[3.58,-18.31],[3.58,-19.07],[20.04,-18.81],[0.43,-19.31],[1.37,-19.85],[1.18,-20.17],[13.84,-19.39],[14.46,-19.61],[14.71,-19.71],[16.98,-19.87],[17.65,-19.81],[18.12,-19.53],[6.58,-20.59],[2.99,-20.99],[-0.77,-20.97],[18.45,-21.15],[12.64,-21.19],[12.84,-21.25],[1.37,-21.61],[1.03,-21.85],[3.72,-21.65],[2.02,-21.93],[2.17,-21.97],[4.98,-22.41],[5.05,-22.61],[6.8,-22.19],[7.04,-22.69],[18.65,-22.31],[2.82,-22.73],[15.58,-22.59],[1.64,-23.31],[14.16,-23.74],[0.1,-24.48],[7.34,-24.7],[4.69,-24.96],[20.2,-25.34],[1.79,-25.92],[-0.77,-25.5],[11.99,-26.32],[12.18,-26.66],[20.07,-26.6],[3.18,-27.9],[19.68,-28.14],[5.38,-28.92],[8.55,-29.44],[9.53,-29.3],[10.12,-29.36],[1.66,-29.85],[12.03,-30.23],[5.15,-31.35],[20,-30.95],[-0.56,-30.97],[15.61,-31.79],[2.26,-32.67],[1.84,-33.69],[1.41,-34.79],[1.3,-35.29],[1.23,-35.43],[6.72,-35.09],[6.75,-36.13],[6.68,-36.98],[6.64,-37.1],[6.61,-37.44],
[21.26,-14.12],[21.43,-14.12],[23.95,-14.08],[24.44,-17.87],[25.4,-20.75],[22.56,-21.31],[22.14,-21.71],[22.04,-21.83],[29.49,-23.86],[24.14,-25.48],[34.32,-14.04],
];

const toRows = (p: number[][]) => p.map(([x, y]) => ({ x, y }));
const blueData = toRows([...bluePointsOuterTop, ...bluePointsLeft, ...bluePointsMidLeft, ...bluePointsMidRight, ...bluePointsBottom]);
const greenData = toRows([...greenPointsOuterTop, ...greenPointsLeft, ...greenPointsMidLeft, ...greenPointsMidRight, ...greenPointsBottom]);

const BLUE = "#a1c9f4";
const GREEN = "#8de5a1";
const FONT = "'DejaVu Sans', sans-serif";
const fmt = (v: number) => (v < 0 ? `\u2212${-v}` : `${v}`);
const tickStyle = { fontSize: 41.67, fontFamily: FONT, fill: "#000" };
const tickLine = { stroke: "#000", strokeWidth: 3.33 };
const marker = (color: string) => (p: any) => <circle cx={p.cx} cy={p.cy} r={15.3} fill={color} />;

export default function App() {
  return (
    <div style={{ position: "absolute", left: 0, top: 0, width: 3876, height: 2881, background: "#fff" }}>
      <ScatterChart width={3876} height={2881} margin={{ top: 8, right: 29, bottom: 0, left: 0 }}>
        <XAxis type="number" dataKey="x" domain={xDomain} ticks={xTicks} allowDataOverflow tickFormatter={fmt} tick={tickStyle} tickLine={tickLine} axisLine={false} tickSize={14.6} tickMargin={14} height={101} interval={0} />
        <YAxis type="number" dataKey="y" domain={yDomain} ticks={yTicks} allowDataOverflow tickFormatter={fmt} tick={tickStyle} tickLine={tickLine} axisLine={false} tickSize={14.6} tickMargin={14} width={127} interval={0} />
        <Scatter data={blueData} fill={BLUE} shape={marker(BLUE)} isAnimationActive={false} />
        <Scatter data={greenData} fill={GREEN} shape={marker(GREEN)} isAnimationActive={false} />
        <ReferenceArea x1={xDomain[0]} x2={xDomain[1]} y1={yDomain[0]} y2={yDomain[1]} fill="none" stroke="#000" strokeWidth={3.33} ifOverflow="visible" />
      </ScatterChart>
    </div>
  );
}
